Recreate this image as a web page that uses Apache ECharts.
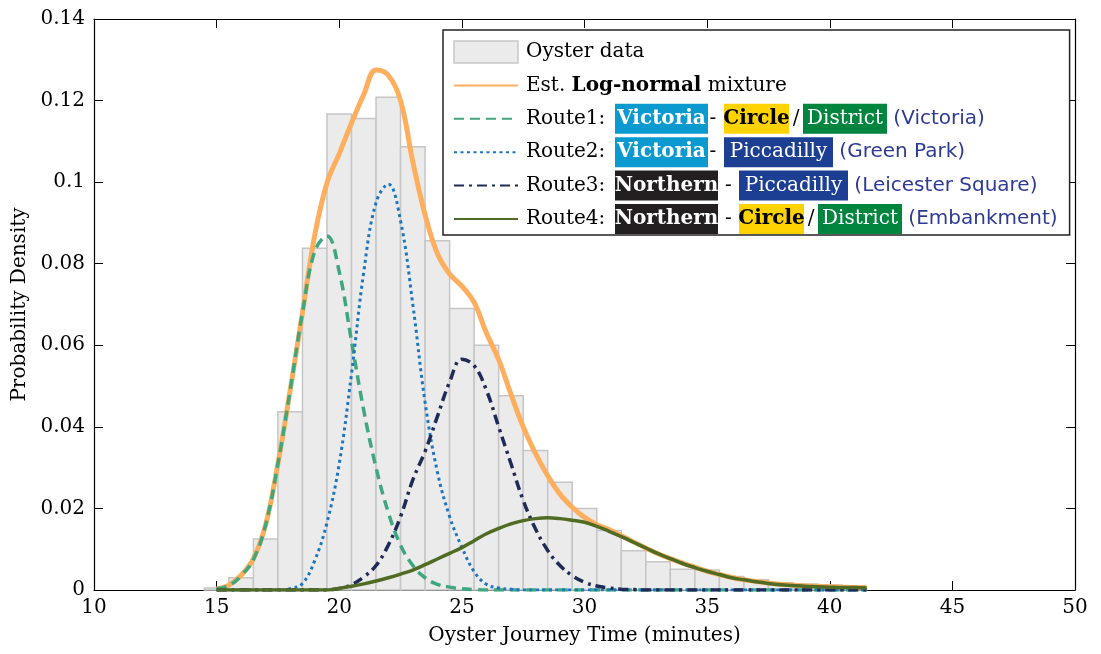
<!DOCTYPE html>
<html>
<head>
<meta charset="utf-8">
<title>Oyster journey time</title>
<script src="https://cdn.jsdelivr.net/npm/echarts@6/dist/echarts.min.js"></script>
<style>
  html, body { margin: 0; padding: 0; background: #fff; }
  #chart { width: 1101px; height: 654px; }
</style>
</head>
<body>
<div id="chart"></div>
<script>
// histogram bins (centre minute) and density
const binWidth = 1;
const binCenters = [15, 16, 17, 18, 19, 20, 21, 22, 23, 24, 25, 26, 27, 28, 29, 30, 31, 32, 33, 34, 35, 36, 37, 38, 39, 40, 41];
const binDensity = [0.0005, 0.003, 0.0125, 0.0437, 0.0838, 0.1167, 0.1156, 0.1208, 0.1087, 0.0856, 0.069, 0.060, 0.0476, 0.0342, 0.0264, 0.020, 0.0146, 0.0096, 0.0069, 0.0051, 0.0049, 0.0033, 0.0025, 0.0018, 0.0015, 0.0012, 0.0008];

const timeGrid = [15, 15.5, 16, 16.5, 17, 17.5, 18, 18.5, 19, 19.5, 20, 20.5, 21, 21.5, 22, 22.5, 23, 23.5, 24, 24.5, 25, 25.5, 26, 26.5, 27, 27.5, 28, 28.5, 29, 29.5, 30, 30.5, 31, 31.5, 32, 32.5, 33, 33.5, 34, 34.5, 35, 35.5, 36, 36.5, 37, 37.5, 38, 38.5, 39, 39.5, 40, 40.5, 41, 41.5];

const mixture = [0.0003, 0.0012, 0.0036, 0.0077, 0.016, 0.031, 0.049, 0.068, 0.087, 0.0998, 0.107, 0.1145, 0.1215, 0.1275, 0.1262, 0.120, 0.105, 0.092, 0.0825, 0.0775, 0.0745, 0.0705, 0.063, 0.0565, 0.048, 0.040, 0.0335, 0.028, 0.0235, 0.0203, 0.0178, 0.016, 0.0148, 0.0133, 0.0118, 0.0103, 0.0089, 0.0077, 0.0066, 0.0056, 0.0046, 0.0038, 0.0031, 0.0025, 0.0021, 0.0017, 0.0014, 0.0012, 0.001, 0.0009, 0.0008, 0.0007, 0.0006, 0.0006];
const route1 = [0.0003, 0.0011, 0.0035, 0.0075, 0.016, 0.031, 0.049, 0.068, 0.083, 0.0868, 0.078, 0.061, 0.044, 0.030, 0.019, 0.011, 0.006, 0.003, 0.0014, 0.0007, 0.0003, 0.0001, 0, 0, 0, 0, 0, 0, 0, 0, 0, 0, 0, 0, 0, 0, 0, 0, 0, 0, 0, 0, 0, 0, 0, 0, 0, 0, 0, 0, 0, 0, 0, 0];
const route2 = [0, 0, 0, 0, 0, 0, 0.0003, 0.0016, 0.0072, 0.0165, 0.031, 0.053, 0.078, 0.095, 0.0995, 0.0905, 0.070, 0.046, 0.029, 0.018, 0.0105, 0.0045, 0.0014, 0.0005, 0.0002, 0, 0, 0, 0, 0, 0, 0, 0, 0, 0, 0, 0, 0, 0, 0, 0, 0, 0, 0, 0, 0, 0, 0, 0, 0, 0, 0, 0, 0];
const route3 = [0, 0, 0, 0, 0, 0, 0, 0, 0, 0, 0.0004, 0.0013, 0.0032, 0.006, 0.011, 0.018, 0.027, 0.034, 0.0425, 0.051, 0.0566, 0.055, 0.049, 0.040, 0.031, 0.022, 0.015, 0.0097, 0.006, 0.0035, 0.0019, 0.001, 0.0005, 0.0002, 0.0001, 0, 0, 0, 0, 0, 0, 0, 0, 0, 0, 0, 0, 0, 0, 0, 0, 0, 0, 0];
const route4 = [0, 0, 0, 0, 0, 0, 0, 0, 0, 0, 0.0004, 0.0009, 0.0015, 0.0022, 0.003, 0.0039, 0.0049, 0.0062, 0.0076, 0.009, 0.0104, 0.0121, 0.0138, 0.0151, 0.0162, 0.017, 0.0175, 0.0177, 0.0175, 0.0171, 0.0166, 0.0156, 0.0144, 0.0131, 0.0117, 0.0103, 0.0089, 0.0077, 0.0065, 0.0055, 0.0046, 0.0038, 0.003, 0.0025, 0.002, 0.0016, 0.0013, 0.0011, 0.0009, 0.0008, 0.0007, 0.0006, 0.0006, 0.0005];

const legendLabels = {
  'Oyster data': 'Oyster data',
  'Est. Log-normal mixture': 'Est. {b|Log-normal} mixture',
  'Route1': '{r|Route1:}{vic|Victoria}{sep|- }{cir|Circle}{sl|/}{dis|District} {st|(Victoria)}',
  'Route2': '{r|Route2:}{vic|Victoria}{sep|- }{pic|Piccadilly} {st|(Green Park)}',
  'Route3': '{r|Route3:}{nor|Northern}{sep2| - }{pic|Piccadilly} {st|(Leicester Square)}',
  'Route4': '{r|Route4:}{nor|Northern}{sep2| - }{cir|Circle}{sl|/}{dis|District} {st|(Embankment)}'
};

const serif = 'DejaVu Serif';
const toPairs = ys => timeGrid.map((t, i) => [t, ys[i]]);

function lineBox(bg, fg, w, bold) {
  return {
    backgroundColor: bg, color: fg, width: w, height: 30, align: 'center',
    fontFamily: serif, fontSize: 20, fontWeight: bold ? 'bold' : 'normal'
  };
}

const chart = echarts.init(document.getElementById('chart'));

const axisCommon = {
  type: 'value',
  axisLine: { show: true, onZero: false, lineStyle: { color: '#000', width: 1.2 } },
  axisTick: { show: true, inside: true, length: 9, lineStyle: { color: '#000', width: 1 } },
  splitLine: { show: false }
};

// lines only in the legend, no marker dot
const noDot = { opacity: 0 };

chart.setOption({
  animation: false,
  grid: { left: 94, right: 26, top: 19, bottom: 64 },
  xAxis: [
    Object.assign({}, axisCommon, {
      min: 10, max: 50, interval: 5, position: 'bottom',
      axisLabel: { color: '#000', fontFamily: serif, fontSize: 20, margin: 8 },
      name: 'Oyster Journey Time (minutes)',
      nameLocation: 'middle',
      nameGap: 36,
      nameTextStyle: { color: '#000', fontFamily: serif, fontSize: 20 }
    }),
    Object.assign({}, axisCommon, {
      min: 10, max: 50, interval: 5, position: 'top',
      axisLabel: { show: false }
    })
  ],
  yAxis: [
    Object.assign({}, axisCommon, {
      min: 0, max: 0.14, interval: 0.02, position: 'left',
      axisLabel: { color: '#000', fontFamily: serif, fontSize: 20, margin: 9 },
      name: 'Probability Density',
      nameLocation: 'middle',
      nameGap: 64,
      nameTextStyle: { color: '#000', fontFamily: serif, fontSize: 20 }
    }),
    Object.assign({}, axisCommon, {
      min: 0, max: 0.14, interval: 0.02, position: 'right',
      axisLabel: { show: false }
    })
  ],
  legend: {
    orient: 'vertical',
    left: 443,
    top: 30,
    padding: [7, 12, 1, 10],
    itemGap: 3.4,
    itemWidth: 64,
    itemHeight: 22,
    backgroundColor: '#fff',
    borderColor: '#222',
    borderWidth: 1.5,
    formatter: name => legendLabels[name],
    textStyle: {
      fontFamily: serif, fontSize: 20, color: '#000', lineHeight: 30,
      padding: [0, 0, 0, 3],
      rich: {
        r: { fontFamily: serif, fontSize: 20, color: '#000', width: 89 },
        b: { fontFamily: serif, fontSize: 20, fontWeight: 'bold', color: '#000' },
        sep: { fontFamily: serif, fontSize: 20, color: '#000', width: 16 },
        sep2: { fontFamily: serif, fontSize: 20, color: '#000', width: 21, align: 'center' },
        sl: { fontFamily: serif, fontSize: 20, color: '#000', width: 14, align: 'center' },
        vic: lineBox('#0A9AD0', '#fff', 93, true),
        cir: lineBox('#FFD300', '#000', 65, true),
        dis: lineBox('#00853F', '#fff', 84, false),
        pic: lineBox('#1C3F94', '#fff', 109, false),
        nor: lineBox('#231F20', '#fff', 103, true),
        st: { fontFamily: 'DejaVu Sans', fontSize: 20, color: '#2D3B94' }
      }
    },
    data: [
      { name: 'Oyster data', icon: 'rect', itemStyle: { color: '#ebebeb', borderColor: '#c8c8c8', borderWidth: 1.5, opacity: 1 } },
      { name: 'Est. Log-normal mixture', itemStyle: noDot },
      { name: 'Route1', itemStyle: noDot },
      { name: 'Route2', itemStyle: noDot },
      { name: 'Route3', itemStyle: noDot },
      { name: 'Route4', itemStyle: noDot }
    ]
  },
  series: [
    {
      name: 'Oyster data',
      type: 'custom',
      itemStyle: { color: '#ebebeb' },
      data: binCenters.map((c, i) => [c, binDensity[i]]),
      encode: { x: 0, y: 1 },
      renderItem: function (params, api) {
        const c = api.value(0);
        const d = api.value(1);
        const p0 = api.coord([c - binWidth / 2, d]);
        const p1 = api.coord([c + binWidth / 2, 0]);
        return {
          type: 'rect',
          shape: { x: p0[0], y: p0[1], width: p1[0] - p0[0], height: p1[1] - p0[1] },
          style: { fill: '#ebebeb', stroke: '#c6c6c6', lineWidth: 1.5 }
        };
      }
    },
    {
      name: 'Est. Log-normal mixture',
      type: 'line', smooth: 0.4, symbol: 'none',
      data: toPairs(mixture),
      lineStyle: { color: '#FFAE5E', width: 5 },
      itemStyle: { color: '#FFAE5E' }
    },
    {
      name: 'Route1',
      type: 'line', smooth: 0.4, symbol: 'none',
      data: toPairs(route1),
      lineStyle: { color: '#3FA77D', width: 3.5, type: [10, 6] },
      itemStyle: { color: '#3FA77D' }
    },
    {
      name: 'Route2',
      type: 'line', smooth: 0.4, symbol: 'none',
      data: toPairs(route2),
      lineStyle: { color: '#1B75C0', width: 3, type: [3, 3.5] },
      itemStyle: { color: '#1B75C0' }
    },
    {
      name: 'Route3',
      type: 'line', smooth: 0.4, symbol: 'none',
      data: toPairs(route3),
      lineStyle: { color: '#1E2B57', width: 3.5, type: [10, 5, 3, 5] },
      itemStyle: { color: '#1E2B57' }
    },
    {
      name: 'Route4',
      type: 'line', smooth: 0.4, symbol: 'none',
      data: toPairs(route4),
      lineStyle: { color: '#506B24', width: 3.5 },
      itemStyle: { color: '#506B24' }
    }
  ]
});
</script>
</body>
</html>
